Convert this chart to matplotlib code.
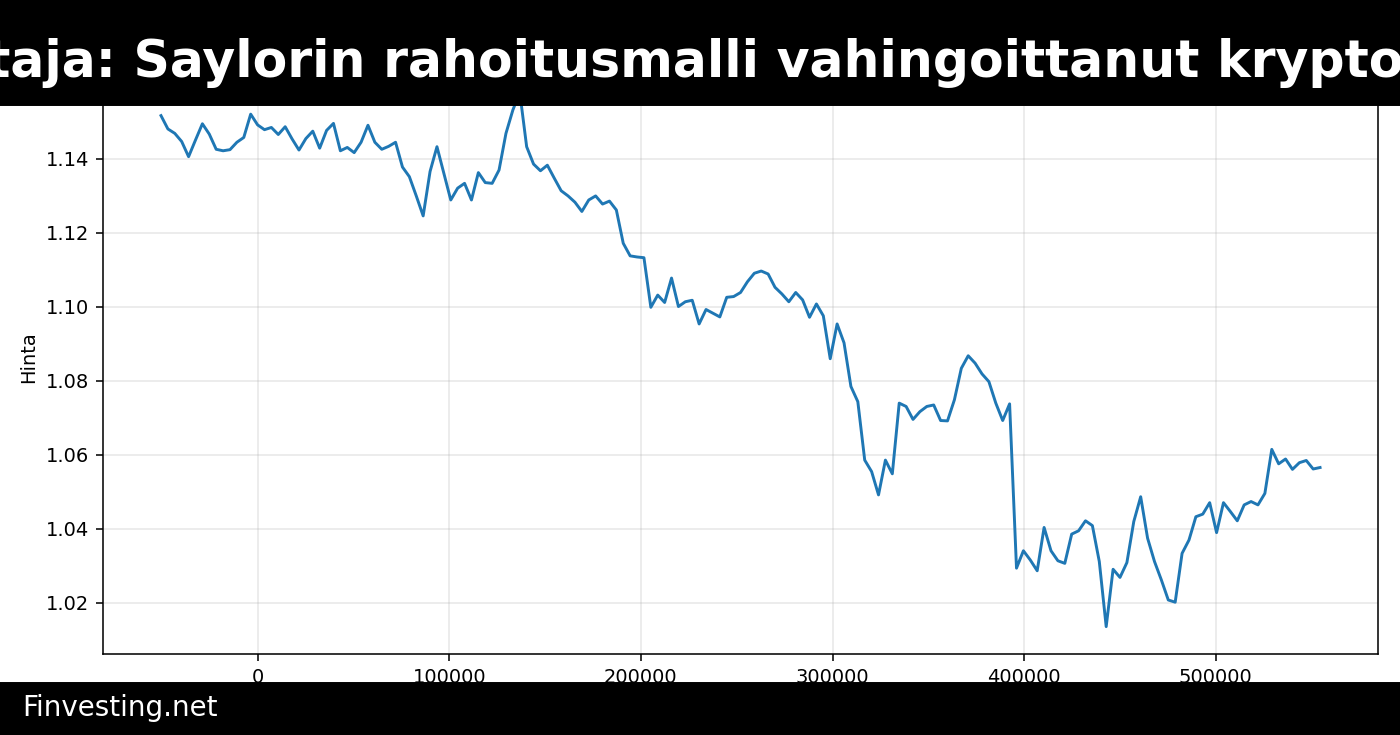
import matplotlib
matplotlib.use("Agg")
import matplotlib.pyplot as plt
from matplotlib.patches import Rectangle
import numpy as np

# hourly steps (seconds), price series
hours = np.arange(-14, 155)
seconds = hours * 3600

price = [
    1.1517, 1.1481, 1.1469, 1.1447, 1.1406, 1.1451, 1.1495, 1.1467, 1.1426, 1.1422,
    1.1425, 1.1445, 1.1458, 1.1521, 1.1492, 1.1479, 1.1485, 1.1466, 1.1487, 1.1454,
    1.1424, 1.1455, 1.1475, 1.1429, 1.1477, 1.1496, 1.1422, 1.1431, 1.1417, 1.1445,
    1.1491, 1.1445, 1.1426, 1.1434,
    1.1445, 1.1378, 1.1352, 1.1300, 1.1246, 1.1366, 1.1433, 1.1361, 1.1289, 1.1321,
    1.1334, 1.1289, 1.1363, 1.1336, 1.1334, 1.1370, 1.1469, 1.1532, 1.1580, 1.1433,
    1.1386, 1.1368, 1.1383, 1.1348, 1.1314, 1.1300, 1.1283, 1.1258, 1.1289, 1.1300,
    1.1278, 1.1286, 1.1262,
    1.1172, 1.1138, 1.1135, 1.1133, 1.0999, 1.1032, 1.1012, 1.1078, 1.1001, 1.1014,
    1.1018, 1.0954, 1.0993, 1.0983, 1.0973, 1.1026, 1.1028, 1.1039, 1.1068, 1.1091,
    1.1097, 1.1089, 1.1053, 1.1035, 1.1014, 1.1039, 1.1019, 1.0972, 1.1008, 1.0976,
    1.0860, 1.0954, 1.0903,
    1.0785, 1.0744, 1.0586, 1.0555, 1.0492, 1.0586, 1.0549, 1.0740, 1.0731, 1.0696,
    1.0717, 1.0731, 1.0735, 1.0693, 1.0692, 1.0749, 1.0834, 1.0868, 1.0848, 1.0819,
    1.0798,
    1.0740, 1.0693, 1.0738, 1.0294, 1.0341, 1.0316, 1.0287, 1.0404, 1.0341, 1.0314,
    1.0307, 1.0386, 1.0395, 1.0422, 1.0409, 1.0312, 1.0136, 1.0291, 1.0269, 1.0309,
    1.0420, 1.0487, 1.0375, 1.0312, 1.0262, 1.0208, 1.0202, 1.0334, 1.0370, 1.0433,
    1.0440, 1.0471, 1.0390, 1.0471, 1.0447, 1.0422, 1.0465, 1.0474, 1.0465, 1.0496,
    1.0615, 1.0576, 1.0589, 1.0561, 1.0579, 1.0585, 1.0562, 1.0566,
]

title = "Sijoittaja: Saylorin rahoitusmalli vahingoittanut kryptoalaa"
source = "Finvesting.net"

fig = plt.figure(figsize=(10, 5.25), dpi=140)
ax = fig.add_axes([0.0736, 0.1102, 0.9107, 0.8075])
ax.plot(seconds, price, color="#1f77b4", linewidth=1.5)
ax.set_ylabel("Hinta")
ax.grid(True, alpha=0.3)
ax.set_ylim(1.0062, 1.1666)
ax.set_yticks([1.02, 1.04, 1.06, 1.08, 1.10, 1.12, 1.14])

# black title band and footer band on top of the axes
fig.add_artist(Rectangle((0, 1 - 105 / 735), 1, 105 / 735, transform=fig.transFigure,
                         color="black", zorder=5))
fig.add_artist(Rectangle((0, 0), 1, 52 / 735, transform=fig.transFigure,
                         color="black", zorder=5))
fig.text(681 / 1400, 1 - 63 / 735, title, color="white", fontsize=26, fontweight="bold",
         ha="center", va="center", zorder=6)
fig.text(22 / 1400, 1 - 708 / 735, source, color="white", fontsize=14.3,
         ha="left", va="center", zorder=6)

fig.savefig("out.png", dpi=140)
